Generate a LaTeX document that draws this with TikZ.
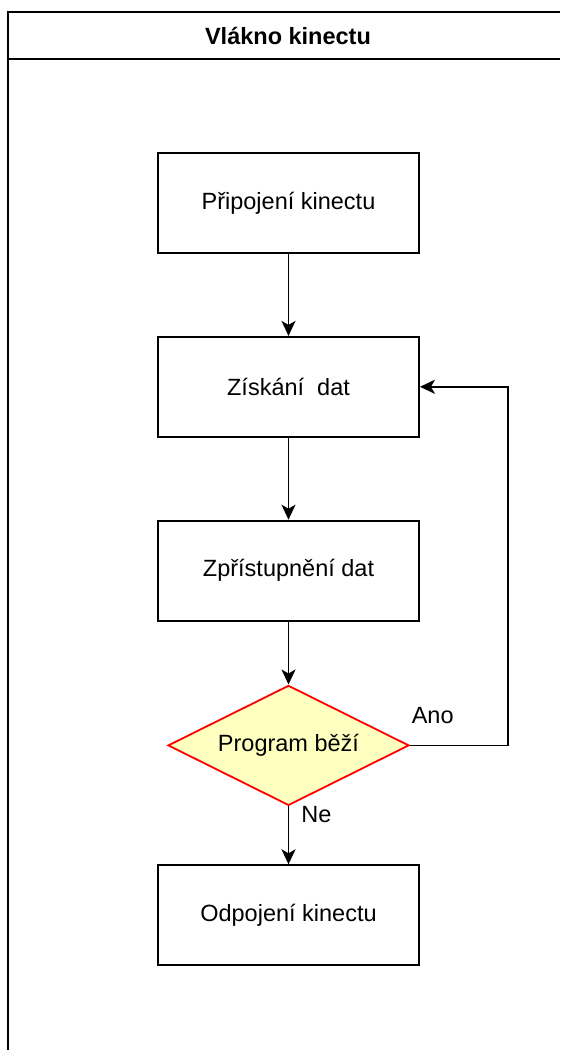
\documentclass[tikz,border=0pt]{standalone}
\usepackage{fontspec}
\setmainfont{Liberation Sans}
\usetikzlibrary{shapes,shapes.geometric,arrows,arrows.meta,positioning,calc}

\definecolor{decfill}{HTML}{FFFFC0}

\begin{document}
\begin{tikzpicture}[x=1pt, y=1pt, node distance=82pt, >={Stealth[length=15pt, width=14pt, inset=4pt]}, line width=1.8pt,
    every node/.style={font=\fontsize{23.5}{27}\selectfont},
    stepbox/.style={draw, rectangle, minimum width=261pt, minimum height=100pt, inner sep=0pt},
    decision/.style={draw=red, fill=decfill, diamond, aspect=2, minimum width=241pt, minimum height=120pt, inner sep=0pt}]
    \useasboundingbox (0,0) rectangle (560,-1050);
    % pool
    \draw (8,-1050) -- (8,-12) -- (560,-12);
    \draw (8,-59) -- (560,-59);
    \node [font=\fontsize{23.5}{27}\selectfont\bfseries] (title) at (288,-36) {Vlákno kinectu};

    \node [stepbox] (connect) at (288.5,-203) {Připojení kinectu};
    \node [stepbox, below=of connect] (acquire) {Získání~ dat};
    \node [stepbox, below=of acquire] (publish) {Zpřístupnění dat};
    \node [decision, below=63pt of publish] (running) {Program běží};
    \node [stepbox, below=58pt of running] (disconnect) {Odpojení kinectu};
    \coordinate (loop) at (508,0);

    \draw [->] (connect) -- (acquire);
    \draw [->] (acquire) -- (publish);
    \draw [->] (publish) -- (running);
    \draw [->] (running) -- (disconnect);
    \draw [->] (running.east) -| (loop |- acquire.east) -- (acquire.east);
    \node [anchor=west, inner sep=0pt] (yes) at ($(running.east)+(1,30)$) {Ano};
    \node [anchor=west, inner sep=0pt] (no) at ($(running.south)+(12,-8)$) {Ne};
\end{tikzpicture}
\end{document}
